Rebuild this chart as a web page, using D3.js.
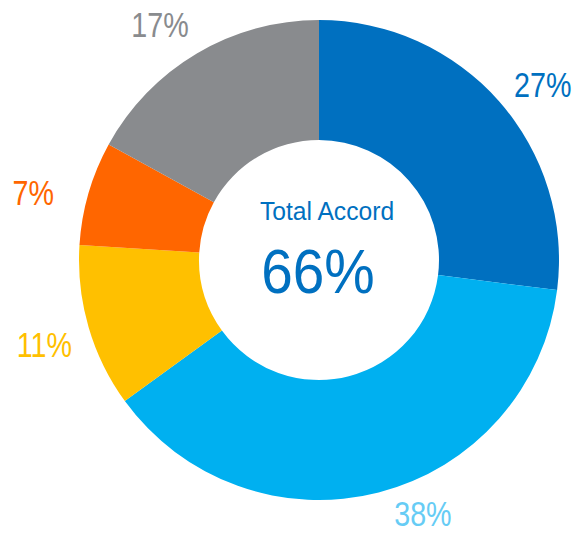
<!DOCTYPE html>
<html>
<head>
<meta charset="utf-8">
<script src="https://cdn.jsdelivr.net/npm/d3@7"></script>
<style>
  body { margin: 0; background: #fff; }
  text { font-family: "Liberation Sans", Arial, sans-serif; }
</style>
</head>
<body>
<svg id="chart"></svg>
<script>
// DONUT DATA
const labels = ["27%", "38%", "11%", "7%", "17%"];
const values = [27, 38, 11, 7, 17];
const sliceColors = ["#0070C0", "#00B0F0", "#FFC000", "#FF6600", "#898B8E"];
const labelColors = ["#0070C0", "#66CCF5", "#FFC000", "#FF6600", "#898B8E"];
// small nudges of each label away from its slice's centroid, in px
const labelNudges = [[10, 13], [33, -22], [-1, 5], [-12, 12], [-14, 10]];
const centerTitle = "Total Accord";
const centerValue = "66%";

const w = 577, h = 533;
const cx = 319, cy = 260;
const outerRadius = 240, innerRadius = 120, labelRadius = 285;
// the reference uses a condensed face, so squeeze the text horizontally
const squeeze = 0.82;

const svg = d3.select("#chart")
  .attr("width", w)
  .attr("height", h);

// keep the given order, first slice starts at 12 o'clock
const pie = d3.pie().sort(null);

const arc = d3.arc()
  .innerRadius(innerRadius)
  .outerRadius(outerRadius);

const labelArc = d3.arc()
  .innerRadius(labelRadius)
  .outerRadius(labelRadius);

const g = svg.append("g")
  .attr("transform", `translate(${cx}, ${cy})`);

const arcs = g.selectAll("g.slice")
  .data(pie(values))
  .enter()
  .append("g")
  .attr("class", "slice");

arcs.append("path")
  .attr("fill", (d, i) => sliceColors[i])
  .attr("d", arc);

arcs.append("text")
  .attr("transform", (d, i) => {
    const [x, y] = labelArc.centroid(d);
    return `translate(${x + labelNudges[i][0]}, ${y + labelNudges[i][1]}) scale(${squeeze}, 1)`;
  })
  .attr("text-anchor", "middle")
  .attr("dy", "0.35em")
  .attr("font-size", 35)
  .attr("fill", (d, i) => labelColors[i])
  .text((d, i) => labels[i]);

// center text
g.append("text")
  .attr("transform", "translate(8, -40) scale(0.93, 1)")
  .attr("text-anchor", "middle")
  .attr("font-size", 26.5)
  .attr("fill", "#0070C0")
  .text(centerTitle);

g.append("text")
  .attr("transform", "translate(-1, 33) scale(0.9, 1)")
  .attr("text-anchor", "middle")
  .attr("font-size", 63)
  .attr("fill", "#0070C0")
  .text(centerValue);
</script>
</body>
</html>
